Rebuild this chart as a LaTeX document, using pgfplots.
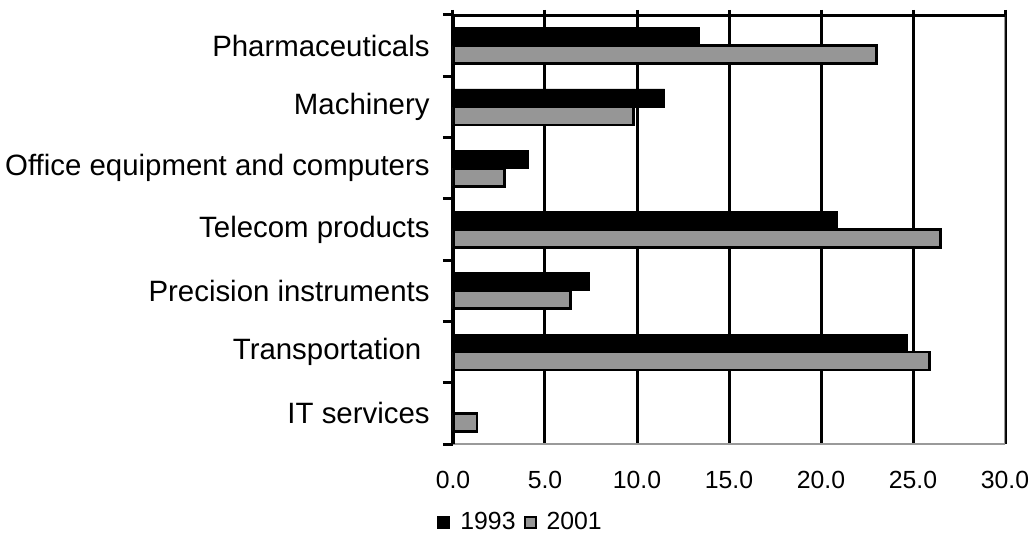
\documentclass[border=0pt]{standalone}
\usepackage{fontspec}
\setmainfont{Liberation Sans}
\usepackage{pgfplots}
\pgfplotsset{compat=1.18}
\definecolor{barg}{HTML}{969696}
\definecolor{axg}{HTML}{9A9A9A}
\begin{document}
\begin{tikzpicture}
\begin{axis}[
  scale only axis, width=276pt, height=214.5pt,
  xmin=0, xmax=30, ymin=-0.5, ymax=6.5,
  xbar, bar width=9pt,
  xtick={0,5,...,30},
  xtick pos=upper, xticklabel pos=lower,
  tick align=outside,
  major tick length=2.5pt,
  minor tick length=5pt,
  xmajorgrids, major grid style={black, line width=1.5pt},
  every major x tick/.append style={black, line width=1.5pt},
  axis line style={draw=none},
  ytick={0,...,6},
  yticklabels={IT services, Transportation\hspace*{0.28em}, Precision instruments, Telecom products, Office equipment and computers, Machinery, Pharmaceuticals},
  every major y tick/.append style={draw=none},
  minor ytick={-0.5,0.5,...,6.5},
  every minor y tick/.append style={black, line width=1.5pt},
  ytick pos=left,
  yticklabel style={font=\fontsize{14.7}{17}\selectfont, anchor=east, inner sep=0pt, xshift=-9pt},
  xticklabel style={font=\fontsize{12.4}{14}\selectfont, anchor=north, inner sep=0pt, yshift=-11pt},
  /pgf/number format/.cd, fixed, fixed zerofill, precision=1, assume math mode=true,
  /pgfplots/.cd,
  legend columns=-1,
  legend style={draw=none, fill=none, at={(rel axis cs:0,0)}, anchor=west, xshift=-8pt, yshift=-39.25pt,
    font=\fontsize{12.4}{14}\selectfont, inner sep=0pt,
    /tikz/every odd column/.append style={column sep=3pt},
    /tikz/every even column/.append style={column sep=2pt}},
  legend image code/.code={\draw[#1, line width=1pt] (0pt,-2.75pt) rectangle (5.5pt,2.75pt);},
]
\addplot[fill=black, draw=black, bar shift=4.5pt] coordinates {(0,0) (24.7,1) (7.4,2) (20.9,3) (4.1,4) (11.5,5) (13.4,6)};
\addplot[fill=barg, draw=black, line width=1.3pt, bar shift=-4.5pt] coordinates {(1.3,0) (25.9,1) (6.4,2) (26.5,3) (2.8,4) (9.8,5) (23.0,6)};
\legend{1993,2001}
\draw[axg, line width=1.5pt] (rel axis cs:0,0) -- (rel axis cs:1,0) -- (rel axis cs:1,1);
\draw[black, line width=1.6pt] (rel axis cs:0,0) -- (rel axis cs:0,1) -- (rel axis cs:1,1);
\end{axis}
\pgfresetboundingbox
\path[use as bounding box] (-226.5pt,-45.5pt) rectangle (289pt,222pt);
\end{tikzpicture}
\end{document}
